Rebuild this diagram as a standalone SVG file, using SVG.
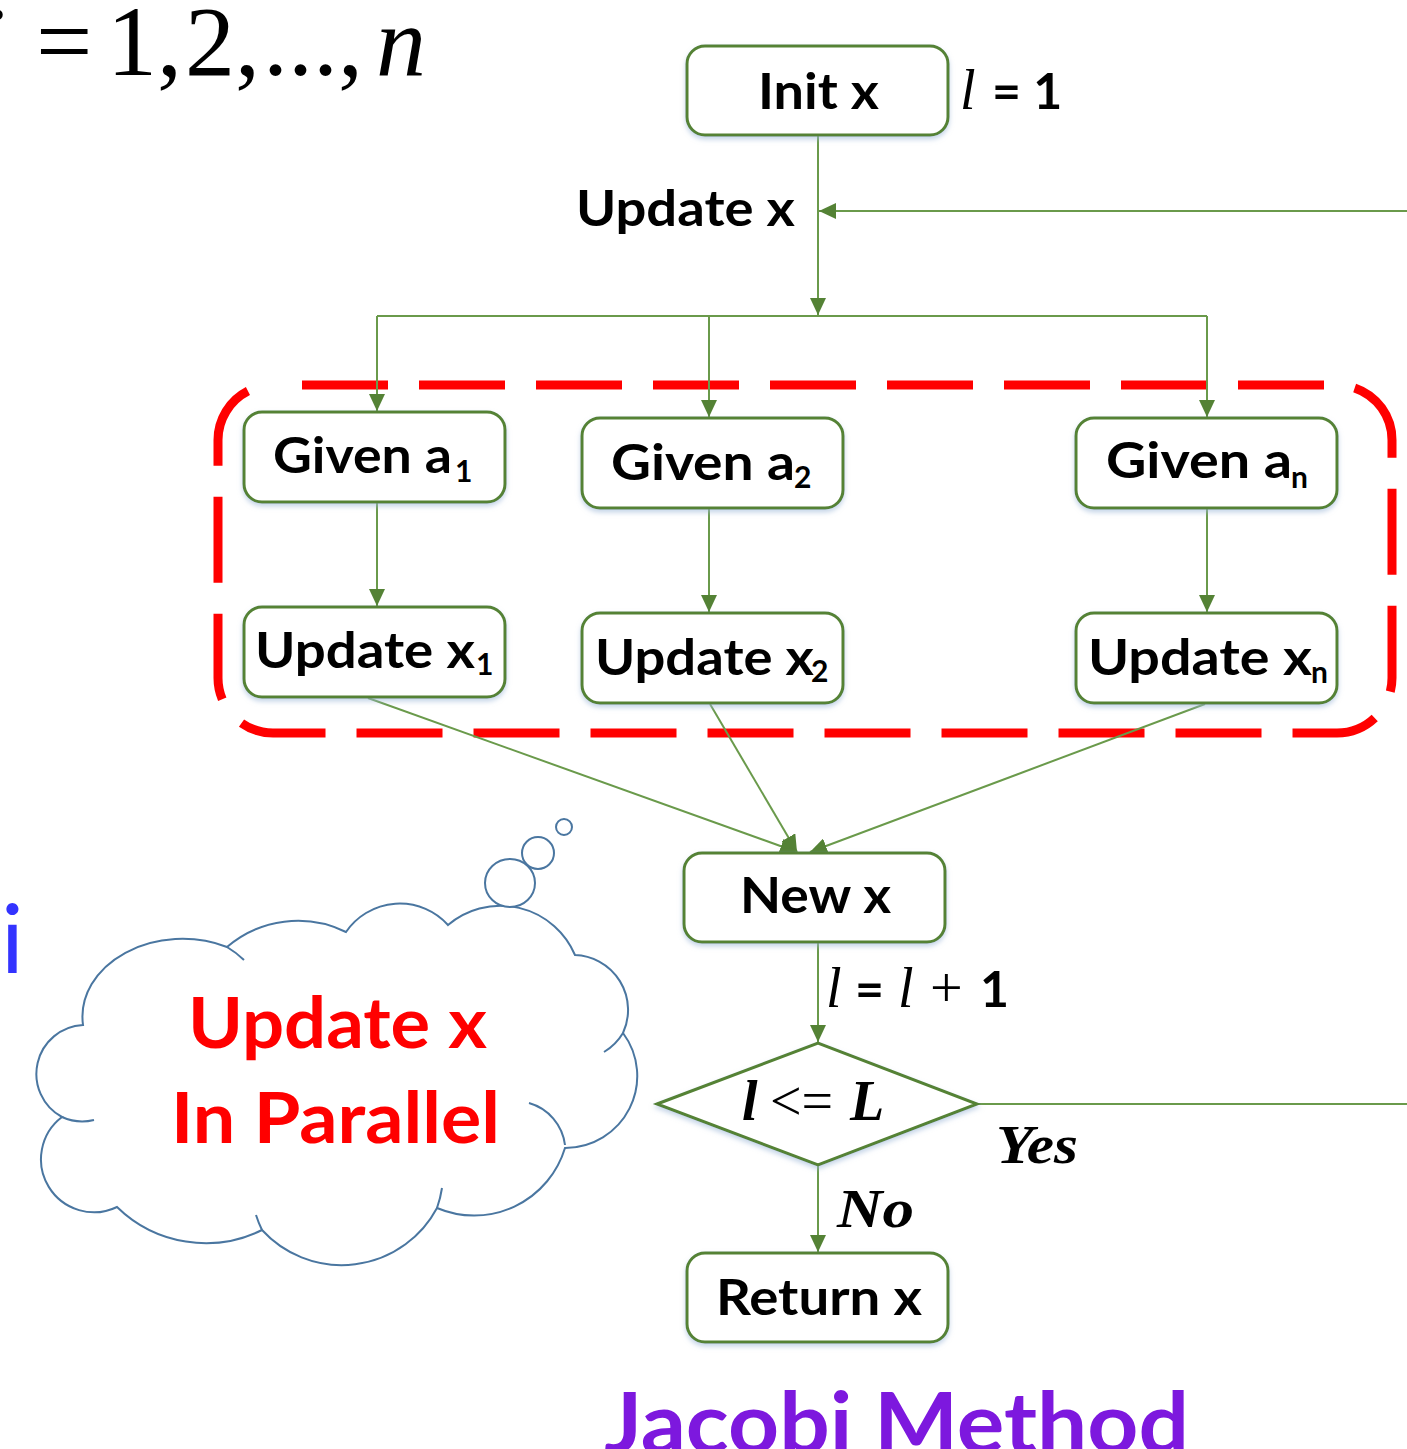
<svg xmlns="http://www.w3.org/2000/svg" width="1407" height="1449" viewBox="0 0 1407 1449">
<defs>
<style>
.box{fill:#fff;stroke:#548235;stroke-width:3;filter:url(#sh)}
.ln{fill:none;stroke:#6a9a4b;stroke-width:2}
.lbl{font-family:Lato,"Open Sans","DejaVu Sans",sans-serif;font-weight:bold;font-size:50px;fill:#000}
.sub{font-family:Lato,"Open Sans","DejaVu Sans",sans-serif;font-weight:bold;font-size:30px;fill:#000}
.mi{font-family:"Liberation Serif","Times New Roman",serif;font-style:italic;font-size:56px;fill:#000}
.mb{font-family:"Liberation Serif","Times New Roman",serif;font-style:italic;font-weight:bold;fill:#000}
.cl{fill:none;stroke:#4a76a0;stroke-width:2}
.red{font-family:Lato,"Open Sans",sans-serif;font-weight:bold;font-size:71px;fill:#ff0000}
</style>
<filter id="sh" x="-10%" y="-10%" width="120%" height="130%">
<feDropShadow dx="0" dy="3" stdDeviation="2.5" flood-color="#9fb9d9" flood-opacity="0.6"/>
</filter>
<marker id="ah" markerUnits="userSpaceOnUse" markerWidth="17" markerHeight="16" refX="17" refY="8" orient="auto">
<path d="M0,0 L17,8 L0,16 z" fill="#548235"/>
</marker>
</defs>

<rect width="1407" height="1449" fill="#fff"/>

<g id="formula">
<text y="75" font-family="'Liberation Serif','Times New Roman',serif" font-size="100" fill="#000"><tspan x="-22" font-style="italic">i</tspan><tspan x="36">=</tspan><tspan x="107">1,</tspan><tspan x="185">2,</tspan><tspan x="263">...,</tspan><tspan x="376" font-style="italic">n</tspan></text>
</g>

<g id="blue-i">
<text x="1" y="973" font-family="Lato,'Open Sans',sans-serif" font-size="95" fill="#3333ff">i</text>
</g>

<g id="parallel-region">
<rect x="218" y="385" width="1174" height="348" rx="55" ry="55" fill="none" stroke="#ff0000" stroke-width="9" stroke-dasharray="86 31" stroke-dashoffset="88"/>
</g>

<g id="connectors">
<line class="ln" x1="818" y1="135" x2="818" y2="315" marker-end="url(#ah)"/>
<line class="ln" x1="1407" y1="211" x2="819" y2="211" marker-end="url(#ah)"/>
<line class="ln" x1="377" y1="316" x2="1207" y2="316"/>
<line class="ln" x1="377" y1="316" x2="377" y2="411" marker-end="url(#ah)"/>
<line class="ln" x1="709" y1="316" x2="709" y2="417" marker-end="url(#ah)"/>
<line class="ln" x1="1207" y1="316" x2="1207" y2="417" marker-end="url(#ah)"/>
<line class="ln" x1="377" y1="502" x2="377" y2="606" marker-end="url(#ah)"/>
<line class="ln" x1="709" y1="508" x2="709" y2="612" marker-end="url(#ah)"/>
<line class="ln" x1="1207" y1="508" x2="1207" y2="612" marker-end="url(#ah)"/>
<line class="ln" x1="368" y1="698" x2="797" y2="852" marker-end="url(#ah)"/>
<line class="ln" x1="710" y1="704" x2="797" y2="852" marker-end="url(#ah)"/>
<line class="ln" x1="1205" y1="704" x2="810" y2="852" marker-end="url(#ah)"/>
<line class="ln" x1="818" y1="942" x2="818" y2="1042" marker-end="url(#ah)"/>
<line class="ln" x1="977" y1="1104" x2="1407" y2="1104"/>
<line class="ln" x1="818" y1="1165" x2="818" y2="1252" marker-end="url(#ah)"/>
<text class="lbl" x="576" y="226" textLength="219" lengthAdjust="spacingAndGlyphs">Update x</text>
<text y="1007"><tspan class="mi" x="826" font-size="56">l</tspan><tspan class="lbl" x="855">=</tspan><tspan class="mi" x="898" font-size="56">l</tspan><tspan x="930" font-family="'Liberation Serif',serif" font-size="58" fill="#000">+</tspan><tspan class="lbl" x="980">1</tspan></text>
<text class="mb" x="996" y="1163" font-size="55" textLength="82" lengthAdjust="spacingAndGlyphs">Yes</text>
<text class="mb" x="837" y="1227" font-size="55" textLength="77" lengthAdjust="spacingAndGlyphs">No</text>
</g>

<g id="init-x">
<rect class="box" x="687" y="46" width="261" height="89" rx="18"/>
<text class="lbl" x="758" y="109" textLength="121" lengthAdjust="spacingAndGlyphs">Init x</text>
<text y="109"><tspan class="mi" x="960">l</tspan><tspan class="lbl" x="992">= 1</tspan></text>
</g>

<g id="given-a1">
<rect class="box" x="244" y="412" width="261" height="90" rx="18"/>
<text class="lbl" x="273" y="473" textLength="179" lengthAdjust="spacingAndGlyphs">Given a</text>
<text class="sub" x="455" y="482">1</text>
</g>

<g id="given-a2">
<rect class="box" x="582" y="418" width="261" height="90" rx="18"/>
<text class="lbl" x="611" y="480" textLength="184" lengthAdjust="spacingAndGlyphs">Given a</text>
<text class="sub" x="794" y="488">2</text>
</g>

<g id="given-an">
<rect class="box" x="1076" y="418" width="261" height="90" rx="18"/>
<text class="lbl" x="1106" y="478" textLength="186" lengthAdjust="spacingAndGlyphs">Given a</text>
<text class="sub" x="1291" y="488">n</text>
</g>

<g id="update-x1">
<rect class="box" x="244" y="607" width="261" height="90" rx="18"/>
<text class="lbl" x="255" y="668" textLength="220" lengthAdjust="spacingAndGlyphs">Update x</text>
<text class="sub" x="476" y="675">1</text>
</g>

<g id="update-x2">
<rect class="box" x="582" y="613" width="261" height="90" rx="18"/>
<text class="lbl" x="595" y="675" textLength="219" lengthAdjust="spacingAndGlyphs">Update x</text>
<text class="sub" x="811" y="682">2</text>
</g>

<g id="update-xn">
<rect class="box" x="1076" y="613" width="261" height="90" rx="18"/>
<text class="lbl" x="1088" y="675" textLength="224" lengthAdjust="spacingAndGlyphs">Update x</text>
<text class="sub" x="1311" y="683">n</text>
</g>

<g id="new-x">
<rect class="box" x="684" y="853" width="261" height="89" rx="18"/>
<text class="lbl" x="740" y="913" textLength="151" lengthAdjust="spacingAndGlyphs">New x</text>
</g>

<g id="decision">
<polygon points="657,1104 818,1043 977,1104 818,1165" fill="#fff" stroke="#548235" stroke-width="3" filter="url(#sh)"/>
<text y="1120" font-size="56"><tspan class="mb" x="742">l</tspan><tspan x="770" font-family="'Liberation Serif',serif" fill="#000">&lt;=</tspan><tspan class="mb" x="850">L</tspan></text>
</g>

<g id="return-x">
<rect class="box" x="687" y="1253" width="261" height="89" rx="18"/>
<text class="lbl" x="716" y="1315" textLength="206" lengthAdjust="spacingAndGlyphs">Return x</text>
</g>

<g id="cloud">
<path d="M 83 1025 A 100 78 0 0 1 227 947 A 109 109 0 0 1 346 932 A 65 65 0 0 1 448 925 A 81 81 0 0 1 575 955 A 55 55 0 0 1 623 1033 A 72 72 0 0 1 565 1148 A 95 95 0 0 1 437 1208 A 108 108 0 0 1 262 1230 A 127 127 0 0 1 117 1207 A 53 53 0 0 1 62 1117 A 49 49 0 0 1 83 1025 Z" fill="#fff" stroke="#4a76a0" stroke-width="2"/>
<path class="cl" d="M 227 947 A 100 78 0 0 1 244 960"/>
<path class="cl" d="M 623 1033 A 55 55 0 0 1 604 1052"/>
<path class="cl" d="M 529 1103 A 50 50 0 0 1 565 1145"/>
<path class="cl" d="M 442 1188 A 108 108 0 0 1 437 1208"/>
<path class="cl" d="M 262 1230 A 108 108 0 0 1 256 1215"/>
<path class="cl" d="M 94 1120 A 49 49 0 0 1 62 1117"/>
<ellipse cx="510" cy="883" rx="25" ry="24" fill="#fff" stroke="#4a76a0" stroke-width="2"/>
<ellipse cx="538" cy="853" rx="16" ry="16" fill="#fff" stroke="#4a76a0" stroke-width="2"/>
<circle cx="564" cy="827" r="8" fill="#fff" stroke="#4a76a0" stroke-width="2"/>
<text class="red" x="188" y="1048" textLength="299" lengthAdjust="spacingAndGlyphs">Update x</text>
<text class="red" x="171" y="1143" textLength="329" lengthAdjust="spacingAndGlyphs">In Parallel</text>
</g>

<g id="title">
<text x="604" y="1453" font-family="Lato,'Open Sans',sans-serif" font-weight="bold" font-size="85" fill="#7d18de" textLength="585" lengthAdjust="spacingAndGlyphs">Jacobi Method</text>
</g>
</svg>
